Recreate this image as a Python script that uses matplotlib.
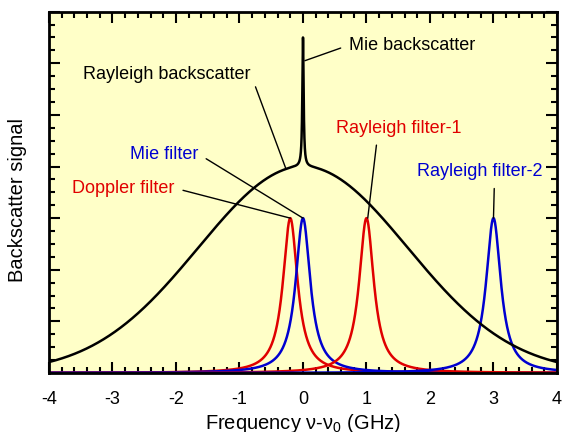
import matplotlib.pyplot as plt
import numpy as np

plt.rcParams['font.family'] = ['Liberation Sans', 'DejaVu Sans']
plt.rcParams['mathtext.fontset'] = 'custom'
plt.rcParams['mathtext.rm'] = 'Liberation Sans'
plt.rcParams['mathtext.it'] = 'Liberation Sans'
plt.rcParams['axes.unicode_minus'] = False

# Rayleigh backscatter (broad gaussian) + Mie backscatter (narrow spike)
rayleigh_centre, rayleigh_height, rayleigh_sigma = 0.0, 4.0, 1.65
mie_centre, mie_height, mie_width = 0.0, 2.5, 0.012

# filters (lorentzian transmission curves)
filter_names = ["Doppler filter", "Mie filter", "Rayleigh filter-1", "Rayleigh filter-2"]
filter_centres = [-0.2, 0.0, 1.0, 3.0]
filter_heights = [3.0, 3.0, 3.0, 3.0]
filter_widths = [0.14, 0.14, 0.14, 0.14]
filter_colours = ["#e00000", "#0000d0", "#e00000", "#0000d0"]

# label positions (text anchor) and where the leader line ends
label_pos = {
    "Rayleigh backscatter": (-3.46, 5.79),
    "Mie backscatter": (0.72, 6.35),
    "Mie filter": (-2.72, 4.24),
    "Doppler filter": (-3.63, 3.58),
    "Rayleigh filter-1": (0.52, 4.74),
    "Rayleigh filter-2": (1.79, 3.90),
}
leader_end = {
    "Rayleigh backscatter": (-0.27, 3.96),
    "Mie backscatter": (0.03, 6.05),
    "Mie filter": (0.0, 3.0),
    "Doppler filter": (-0.2, 3.0),
    "Rayleigh filter-1": (1.02, 3.0),
    "Rayleigh filter-2": (3.0, 3.0),
}
leader_rel = {
    "Rayleigh backscatter": (1.0, 0.5),
    "Mie backscatter": (0.0, 0.5),
    "Mie filter": (1.0, 0.5),
    "Doppler filter": (1.0, 0.5),
    "Rayleigh filter-1": (0.33, 0.0),
    "Rayleigh filter-2": (0.62, 0.0),
}
label_colours = {
    "Rayleigh backscatter": "black",
    "Mie backscatter": "black",
    "Mie filter": "#0000d0",
    "Doppler filter": "#e00000",
    "Rayleigh filter-1": "#e00000",
    "Rayleigh filter-2": "#0000d0",
}

x = np.linspace(-4, 4, 16001)
backscatter = (rayleigh_height * np.exp(-(x - rayleigh_centre) ** 2 / (2 * rayleigh_sigma ** 2))
               + mie_height / (1 + ((x - mie_centre) / mie_width) ** 2))

fig = plt.figure(figsize=(5.65, 4.32), dpi=100)
ax = fig.add_axes([0.0867, 0.1366, 0.8991, 0.8364])
ax.set_facecolor("#ffffc8")

for c, h, w, col in zip(filter_centres, filter_heights, filter_widths, filter_colours):
    ax.plot(x, h / (1 + ((x - c) / w) ** 2), color=col, lw=1.8)
ax.plot(x, backscatter, color="black", lw=1.8)

for name, pos in label_pos.items():
    ax.annotate(name, xy=leader_end[name], xytext=pos, ha="left", va="center",
                fontsize=13, color=label_colours[name],
                arrowprops=dict(arrowstyle="-", color="black", lw=1.0,
                                relpos=leader_rel[name], shrinkA=4, shrinkB=0))

ax.set_xlim(-4, 4)
ax.set_ylim(0, 7)
ax.set_xticks(np.arange(-4, 5, 1))
ax.set_xticks(np.arange(-4, 4.01, 0.2), minor=True)
ax.set_yticks(np.arange(0, 8, 1))
ax.set_yticks(np.arange(0, 7.01, 0.25), minor=True)
ax.set_yticklabels([])
ax.tick_params(which="both", direction="in", top=True, right=True, width=1.5)
ax.tick_params(which="major", length=8)
ax.tick_params(axis="x", which="major", labelsize=13, pad=13)
ax.tick_params(which="minor", length=4.5)
for s in ax.spines.values():
    s.set_linewidth(2)

ax.set_xlabel(r"Frequency ν-ν$_0$ (GHz)", fontsize=14.5, labelpad=3)
ax.set_ylabel("Backscatter signal", fontsize=14.5)
ax.yaxis.set_label_coords(-0.043, 0.48)

fig.savefig("out.png", dpi=100)
